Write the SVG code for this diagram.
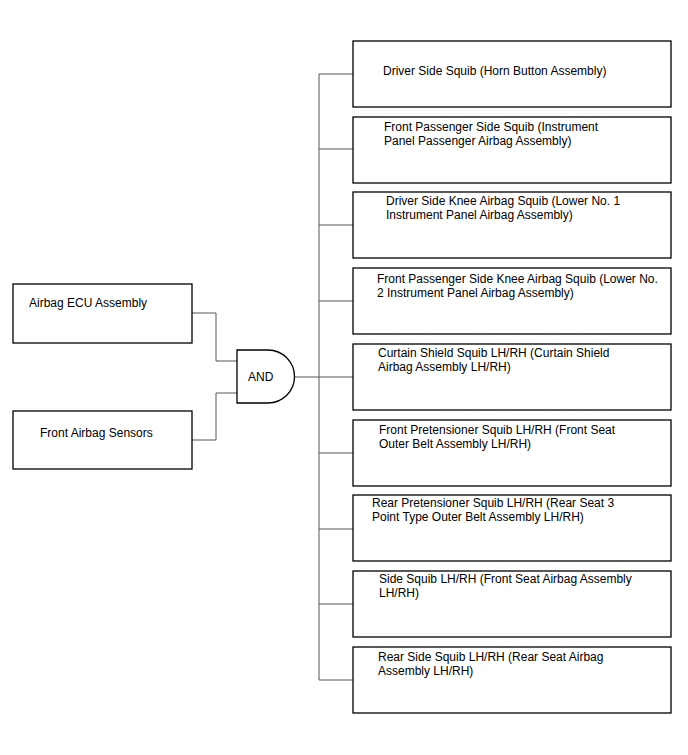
<svg xmlns="http://www.w3.org/2000/svg" width="688" height="755" viewBox="0 0 688 755">
<style>
.box{fill:#fff;stroke:#000;stroke-width:1.3}
.t{font-family:"Liberation Sans",Arial,sans-serif;font-size:12px;fill:#000}
.c{fill:none;stroke:#555;stroke-width:1}
</style>
<rect width="688" height="755" fill="#fff"/>
<g id="connectors">
<path class="c" d="M192,313 H216 V361 H237"/>
<path class="c" d="M192,440 H216 V393 H237"/>
<path class="c" d="M294,377 H319"/>
<path class="c" d="M319,74 V680"/>
<path class="c" d="M319,74 H353 M319,149 H353 M319,225 H353 M319,301 H353 M319,377 H353 M319,453 H353 M319,529 H353 M319,604 H353 M319,680 H353"/>
</g>
<g id="ecu"><rect class="box" x="13" y="284" width="179" height="59"/><text class="t" x="29" y="307">Airbag ECU Assembly</text></g>
<g id="sensors"><rect class="box" x="13" y="411" width="179" height="58"/><text class="t" x="40" y="437">Front Airbag Sensors</text></g>
<g id="and"><path class="box" d="M237,350 H268 A26.5,26.5 0 0 1 268,403 H237 Z"/><text class="t" x="248" y="381">AND</text></g>
<g id="n1"><rect class="box" x="353" y="41" width="318" height="66"/><text class="t" x="383" y="75">Driver Side Squib (Horn Button Assembly)</text></g>
<g id="n2"><rect class="box" x="353" y="117" width="318" height="66"/><text class="t" x="384" y="131">Front Passenger Side Squib (Instrument</text><text class="t" x="384" y="145">Panel Passenger Airbag Assembly)</text></g>
<g id="n3"><rect class="box" x="353" y="192" width="318" height="66"/><text class="t" x="386" y="205">Driver Side Knee Airbag Squib (Lower No. 1</text><text class="t" x="386" y="219">Instrument Panel Airbag Assembly)</text></g>
<g id="n4"><rect class="box" x="353" y="268" width="318" height="66"/><text class="t" x="377" y="283">Front Passenger Side Knee Airbag Squib (Lower No.</text><text class="t" x="377" y="297">2 Instrument Panel Airbag Assembly)</text></g>
<g id="n5"><rect class="box" x="353" y="344" width="318" height="66"/><text class="t" x="378" y="357">Curtain Shield Squib LH/RH (Curtain Shield</text><text class="t" x="378" y="371">Airbag Assembly LH/RH)</text></g>
<g id="n6"><rect class="box" x="353" y="420" width="318" height="66"/><text class="t" x="379" y="434">Front Pretensioner Squib LH/RH (Front Seat</text><text class="t" x="379" y="448">Outer Belt Assembly LH/RH)</text></g>
<g id="n7"><rect class="box" x="353" y="495" width="318" height="66"/><text class="t" x="372" y="507">Rear Pretensioner Squib LH/RH (Rear Seat 3</text><text class="t" x="372" y="521">Point Type Outer Belt Assembly LH/RH)</text></g>
<g id="n8"><rect class="box" x="353" y="571" width="318" height="66"/><text class="t" x="379" y="583">Side Squib LH/RH (Front Seat Airbag Assembly</text><text class="t" x="379" y="597">LH/RH)</text></g>
<g id="n9"><rect class="box" x="353" y="647" width="318" height="66"/><text class="t" x="378" y="661">Rear Side Squib LH/RH (Rear Seat Airbag</text><text class="t" x="378" y="675">Assembly LH/RH)</text></g>
</svg>
